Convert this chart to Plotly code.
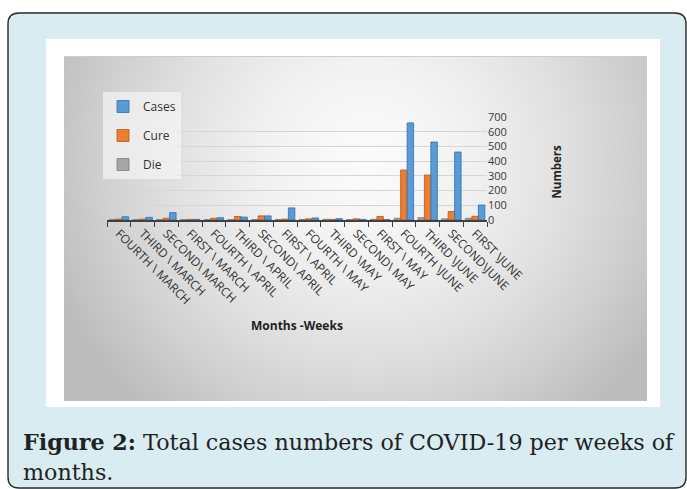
import base64
import struct
import zlib

import plotly.graph_objects as go

# ---- data -------------------------------------------------------------
weeks = [
    "FOURTH \\ MARCH", "THIRD \\ MARCH", "SECOND\\ MARCH", "FIRST \\ MARCH",
    "FOURTH \\ APRIL", "THIRD \\ APRIL", "SECOND\\ APRIL", "FIRST \\ APRIL",
    "FOURTH \\ MAY", "THIRD \\MAY", "SECOND\\ MAY", "FIRST \\ MAY",
    "FOURTH \\JUNE", "THIRD \\JUNE", "SECOND\\JUNE", "FIRST \\JUNE",
]
cases = [22, 18, 50, 4, 16, 20, 28, 82, 14, 9, 4, 3, 660, 530, 462, 102]
cure = [6, 6, 12, 4, 12, 24, 28, 6, 8, 4, 8, 24, 340, 306, 58, 25]
die = [3, 3, 3, 2, 3, 3, 3, 4, 4, 5, 3, 5, 12, 16, 8, 12]
y_ticks = [0, 100, 200, 300, 400, 500, 600, 700]

W, H = 687, 489


def X(px):
    return px / W


def Y(py):
    return 1 - py / H


def png_uri(w, h, shade):
    raw = bytearray()
    for j in range(h):
        raw.append(0)
        for i in range(w):
            raw += bytes(shade(i, j))

    def chunk(tag, data):
        body = tag + data
        return struct.pack(">I", len(data)) + body + struct.pack(">I", zlib.crc32(body) & 0xFFFFFFFF)

    png = (b"\x89PNG\r\n\x1a\n"
           + chunk(b"IHDR", struct.pack(">IIBBBBB", w, h, 8, 2, 0, 0, 0))
           + chunk(b"IDAT", zlib.compress(bytes(raw), 9))
           + chunk(b"IEND", b""))
    return "data:image/png;base64," + base64.b64encode(png).decode()


# page background: light-blue rounded box, white panel, grey gradient chart area
BX0, BY0, BX1, BY1, BR = 8, 13, 686, 488, 11   # rounded box
PX0, PY0, PX1, PY1 = 46, 39, 660, 407          # white panel
GX0, GY0, GX1, GY1 = 64, 56, 647, 401          # grey chart area
GW, GH = GX1 - GX0, GY1 - GY0
BLUE = (216, 236, 241)
WHITE = (255, 255, 255)


def in_box(i, j):
    if not (BX0 <= i <= BX1 and BY0 <= j <= BY1):
        return False
    cx = min(max(i, BX0 + BR), BX1 - BR)
    cy = min(max(j, BY0 + BR), BY1 - BR)
    return (i - cx) ** 2 + (j - cy) ** 2 <= BR * BR


def page_shade(i, j):
    if GX0 <= i < GX1 and GY0 <= j < GY1:
        if j == GY0:
            return (205, 205, 205)
        u = (i - GX0 - 0.52 * GW) / (0.58 * GW)
        v = (j - GY0 - 0.30 * GH) / (0.95 * GH)
        t = min(1.0, (u * u + v * v) ** 0.5)
        c = int(round(250 - 62 * t ** 1.6))
        return (c, c, c)
    if PX0 <= i < PX1 and PY0 <= j < PY1:
        return WHITE
    return BLUE if in_box(i, j) else WHITE


bg_uri = png_uri(W, H, page_shade)

# ---- figure -----------------------------------------------------------
fig = go.Figure()
series = [
    ("Die", die, "#a5a5a5", "#7c7c7c", 3),
    ("Cure", cure, "#ed7d31", "#b95618", 2),
    ("Cases", cases, "#5b9bd5", "#2f6fb3", 1),
]
for name, vals, col, edge, rank in series:
    fig.add_trace(go.Bar(
        x=weeks, y=vals, name=name, legendrank=rank, legendgroup=name,
        marker=dict(color=col, line=dict(color=edge, width=0.8)),
    ))

# dark outline of the rounded box
r = BR
outline = (f"M{X(BX0 + r)},{Y(BY0)} Q{X(BX0)},{Y(BY0)} {X(BX0)},{Y(BY0 + r)} "
           f"L{X(BX0)},{Y(BY1 - r)} Q{X(BX0)},{Y(BY1)} {X(BX0 + r)},{Y(BY1)} "
           f"L{X(BX1 - r)},{Y(BY1)} Q{X(BX1)},{Y(BY1)} {X(BX1)},{Y(BY1 - r)} "
           f"L{X(BX1)},{Y(BY0 + r)} Q{X(BX1)},{Y(BY0)} {X(BX1 - r)},{Y(BY0)} Z")
fig.add_shape(type="path", path=outline, xref="paper", yref="paper",
              fillcolor="rgba(0,0,0,0)", line=dict(color="#2a2a2a", width=1.4),
              layer="above")

fig.add_layout_image(dict(
    source=bg_uri, xref="paper", yref="paper", x=0, y=1,
    sizex=1, sizey=1, xanchor="left", yanchor="top",
    sizing="stretch", layer="below",
))

axis_font = dict(family="Open Sans, Lato, sans-serif", size=11, color="#3a3a3a")

fig.update_layout(
    template="none",
    width=W, height=H, autosize=False,
    margin=dict(l=0, r=0, t=0, b=0, pad=0, autoexpand=False),
    paper_bgcolor="white",
    plot_bgcolor="rgba(0,0,0,0)",
    barmode="group", bargap=0.18, bargroupgap=0.0,
    showlegend=True,
    legend=dict(
        x=X(103), y=Y(92), xanchor="left", yanchor="top",
        bgcolor="rgba(248,248,248,0.65)", borderwidth=0,
        font=dict(family="Open Sans, Lato, sans-serif", size=12, color="#333333"),
        traceorder="grouped", tracegroupgap=10,
        itemwidth=30,
    ),
    xaxis=dict(
        domain=[X(107), X(487)], automargin=False,
        tickangle=45, tickfont=dict(family="Open Sans, Lato, sans-serif",
                                     size=12, color="#333333"),
        showline=True, linecolor="#404040", linewidth=1.5,
        ticks="outside", ticklen=5, tickcolor="#404040", tickson="boundaries",
        showgrid=False, fixedrange=True,
    ),
    yaxis=dict(
        domain=[Y(220), Y(117)], range=[0, 700], side="right", automargin=False,
        tickvals=y_ticks, tickfont=axis_font,
        showgrid=True, gridcolor="#d6d6d6", gridwidth=1,
        zeroline=False, showline=False, ticks="", fixedrange=True,
    ),
    annotations=[
        dict(text="<b>Months -Weeks</b>", x=X(297), y=Y(336), xref="paper", yref="paper",
             showarrow=False, font=dict(family="Open Sans, Lato, sans-serif", size=12,
                                        color="#222222")),
        dict(text="<b>Numbers</b>", x=X(565), y=Y(172), xref="paper", yref="paper",
             textangle=-90, showarrow=False,
             font=dict(family="Open Sans, Lato, sans-serif", size=11.5, color="#222222")),
        dict(text="<b>Figure 2:</b> Total cases numbers of COVID-19 per weeks of",
             x=X(21), y=Y(442), xref="paper", yref="paper", xanchor="left",
             yanchor="middle", showarrow=False,
             font=dict(family="DejaVu Serif, serif", size=22.2, color="#222222")),
        dict(text="months.", x=X(21), y=Y(472), xref="paper", yref="paper",
             xanchor="left", yanchor="middle", showarrow=False,
             font=dict(family="DejaVu Serif, serif", size=22.2, color="#222222")),
    ],
)

fig.write_html("out.html")
